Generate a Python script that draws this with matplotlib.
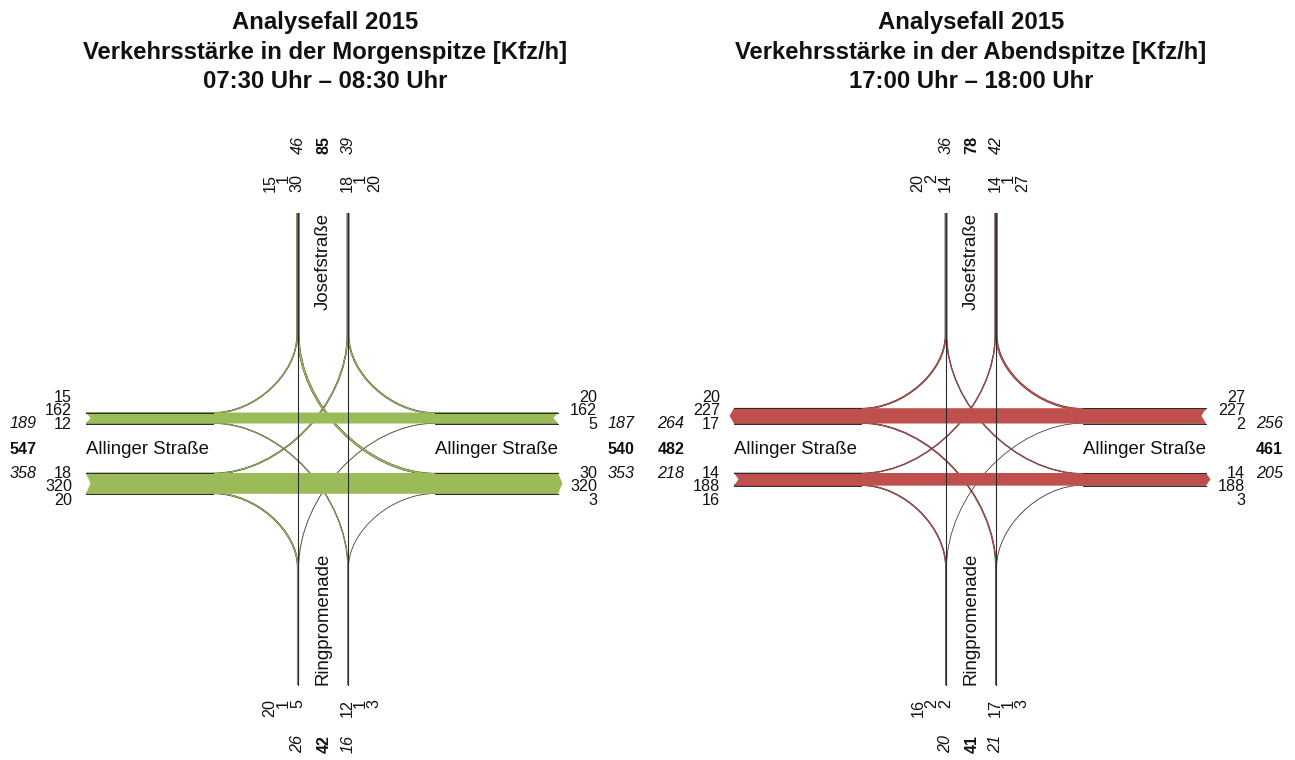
import matplotlib
matplotlib.use("Agg")
import matplotlib.pyplot as plt
from matplotlib.path import Path
from matplotlib.patches import PathPatch, Polygon

plt.rcParams["font.family"] = ["Liberation Sans", "DejaVu Sans"]

# Morgenspitze, each arm is read in the order the numbers stand in the picture
am_west_exit = [15, 162, 12]
am_west_entry = [18, 320, 20]
am_east_entry = [20, 162, 5]
am_east_exit = [30, 320, 3]
am_north_entry = [15, 1, 30]
am_north_exit = [18, 1, 20]
am_south_exit = [20, 1, 5]
am_south_entry = [12, 1, 3]
am_totals = [85, 42, 547, 540]  # north, south, west, east

# Abendspitze
pm_west_exit = [20, 227, 17]
pm_west_entry = [14, 188, 16]
pm_east_entry = [27, 227, 2]
pm_east_exit = [14, 188, 3]
pm_north_entry = [20, 2, 14]
pm_north_exit = [14, 1, 27]
pm_south_exit = [16, 2, 2]
pm_south_entry = [17, 1, 3]
pm_totals = [78, 41, 482, 461]

titles_am = ["Analysefall 2015", "Verkehrsstärke in der Morgenspitze [Kfz/h]", "07:30 Uhr – 08:30 Uhr"]
titles_pm = ["Analysefall 2015", "Verkehrsstärke in der Abendspitze [Kfz/h]", "17:00 Uhr – 18:00 Uhr"]

GREEN = "#9bbb59"
RED = "#c0504d"
DARK = "#2a2a2a"
TEXT = "#111111"
SCALE = 0.058  # px per Kfz/h
PX = 0.72  # px to points at dpi 100
NUM = 11.6
NAME = 13.4

fig = plt.figure(figsize=(12.95, 7.6), dpi=100)
ax = fig.add_axes([0, 0, 1, 1])
ax.set_xlim(0, 1295)
ax.set_ylim(760, 0)
ax.axis("off")


def lanes(center, values):
    # centre of every lane, stacked across the band
    pos = center - sum(values) * SCALE / 2
    out = []
    for v in values:
        out.append(pos + v * SCALE / 2)
        pos += v * SCALE
    return out


def turn(xs, xc, y, yc, xend, yend, value, color, k=0.5):
    # from the band end along the road, round the corner, on to the end of the other road
    pts = [(xs, y), (xend, y),
           (xend + (xc - xend) * k, y), (xc, y + (yc - y) * (1 - k)), (xc, yc),
           (xc, yend)]
    codes = [Path.MOVETO, Path.LINETO, Path.CURVE4, Path.CURVE4, Path.CURVE4, Path.LINETO]
    p = Path(pts, codes)
    w = value * SCALE
    ax.add_patch(PathPatch(p, fill=False, ec=DARK, lw=(w + 0.6) * PX, capstyle="butt", zorder=2))
    ax.add_patch(PathPatch(p, fill=False, ec=color, lw=w * PX, capstyle="butt", zorder=2))


def band(x0, x1, x_tl, x_tr, y, values, color, left_point, right_point):
    h = sum(values) * SCALE
    top = y - h / 2
    bot = y + h / 2
    d = 4.5
    lx = x0 - d if left_point else x0 + d
    rx = x1 + d if right_point else x1 - d
    ax.add_patch(Polygon([(x0, top), (x1, top), (rx, y), (x1, bot), (x0, bot), (lx, y)],
                         closed=True, fc=color, ec="none", zorder=3))
    # dark edge only where the road runs on its own, not through the junction
    for yy in (top, bot):
        ax.plot([x0, x_tl], [yy, yy], color=DARK, lw=0.7, zorder=3)
        ax.plot([x_tr, x1], [yy, yy], color=DARK, lw=0.7, zorder=3)


def numbers_h(x, y, values):
    for i, v in enumerate(values):
        ax.text(x, y + i * 13.7, str(v), ha="right", va="center", fontsize=NUM, color=TEXT)


def numbers_v(x, y, values):
    for i, v in enumerate(values):
        ax.text(x + i * 13.7, y, str(v), rotation=90, ha="center", va="top", fontsize=NUM, color=TEXT)


def panel(dx, title_x, color, titles, west_exit, west_entry, east_entry, east_exit,
          north_entry, north_exit, south_exit, south_entry, totals, west_point):
    x_w, x_e = 86 + dx, 558 + dx
    x_tl, x_tr = 213 + dx, 435 + dx
    x_l, x_r = 298 + dx, 348 + dx
    # the two bands grow away from the gap between them
    y_u = 423.5 - sum(west_exit) * SCALE / 2
    y_d = 473 + sum(west_entry) * SCALE / 2
    y_t, y_b = 213, 685
    y_tn, y_ts = 335, 568

    wx = lanes(y_u, west_exit)
    we = lanes(y_d, west_entry)
    ee = lanes(y_u, east_entry)
    ex = lanes(y_d, east_exit)
    nl = lanes(x_l, north_entry)
    nr = lanes(x_r, north_exit)
    sl = lanes(x_l, south_exit)
    sr = lanes(x_r, south_entry)

    # turning flows
    turn(x_w, nl[0], wx[0], y_tn, x_tl, y_t, west_exit[0], color)
    turn(x_w, sr[0], wx[2], y_ts, x_tl, y_b, west_exit[2], color)
    turn(x_w, nr[0], we[0], y_tn, x_tl, y_t, west_entry[0], color)
    turn(x_w, sl[0], we[2], y_ts, x_tl, y_b, west_entry[2], color)
    turn(x_e, nr[2], ee[0], y_tn, x_tr, y_t, east_entry[0], color)
    turn(x_e, sl[2], ee[2], y_ts, x_tr, y_b, east_entry[2], color)
    turn(x_e, nl[2], ex[0], y_tn, x_tr, y_t, east_exit[0], color)
    turn(x_e, sr[2], ex[2], y_ts, x_tr, y_b, east_exit[2], color)

    # straight on
    band(x_w, x_e, x_tl, x_tr, y_u, west_exit, color, west_point[0], False)
    band(x_w, x_e, x_tl, x_tr, y_d, west_entry, color, west_point[1], True)
    ax.plot([x_l, x_l], [y_t, y_b], color=DARK, lw=0.8, zorder=4)
    ax.plot([x_r, x_r], [y_t, y_b], color=DARK, lw=0.8, zorder=4)

    # titles
    for i, t in enumerate(titles):
        ax.text(title_x, 22 + i * 30, t, ha="center", va="center",
                fontsize=17.2, fontweight="bold", color=TEXT)

    # numbers round the junction
    numbers_h(72 + dx, 397, west_exit)
    numbers_h(72 + dx, 473, west_entry)
    numbers_h(597 + dx, 397, east_entry)
    numbers_h(597 + dx, 473, east_exit)
    numbers_v(270 + dx, 174, north_entry)
    numbers_v(347 + dx, 174, north_exit)
    numbers_v(270 + dx, 699, south_exit)
    numbers_v(347 + dx, 699, south_entry)

    # arm sums
    kw = dict(fontsize=NUM, color=TEXT, va="center")
    ax.text(23 + dx, 424, str(sum(west_exit)), ha="center", style="italic", **kw)
    ax.text(23 + dx, 449, str(totals[2]), ha="center", fontweight="bold", **kw)
    ax.text(23 + dx, 473, str(sum(west_entry)), ha="center", style="italic", **kw)
    ax.text(608 + dx, 424, str(sum(east_entry)), ha="left", style="italic", **kw)
    ax.text(608 + dx, 449, str(totals[3]), ha="left", fontweight="bold", **kw)
    ax.text(608 + dx, 473, str(sum(east_exit)), ha="left", style="italic", **kw)

    kv = dict(fontsize=NUM, color=TEXT, rotation=90, ha="center", va="top")
    ax.text(x_l, 136, str(sum(north_entry)), style="italic", **kv)
    ax.text(324 + dx, 136, str(totals[0]), fontweight="bold", **kv)
    ax.text(x_r, 136, str(sum(north_exit)), style="italic", **kv)
    ax.text(x_l, 735, str(sum(south_exit)), style="italic", **kv)
    ax.text(324 + dx, 735, str(totals[1]), fontweight="bold", **kv)
    ax.text(x_r, 735, str(sum(south_entry)), style="italic", **kv)

    # street names
    ax.text(x_w, 449, "Allinger Straße", ha="left", va="center", fontsize=NAME, color=TEXT)
    ax.text(x_e, 449, "Allinger Straße", ha="right", va="center", fontsize=NAME, color=TEXT)
    ax.text(323 + dx, y_t, "Josefstraße", rotation=90, ha="center", va="top", fontsize=NAME, color=TEXT)
    ax.text(323 + dx, y_b, "Ringpromenade", rotation=90, ha="center", va="bottom", fontsize=NAME, color=TEXT)


panel(0, 325, GREEN, titles_am, am_west_exit, am_west_entry, am_east_entry, am_east_exit,
      am_north_entry, am_north_exit, am_south_exit, am_south_entry, am_totals, (False, False))
panel(648, 971, RED, titles_pm, pm_west_exit, pm_west_entry, pm_east_entry, pm_east_exit,
      pm_north_entry, pm_north_exit, pm_south_exit, pm_south_entry, pm_totals, (True, False))

fig.savefig("out.png", dpi=100)
